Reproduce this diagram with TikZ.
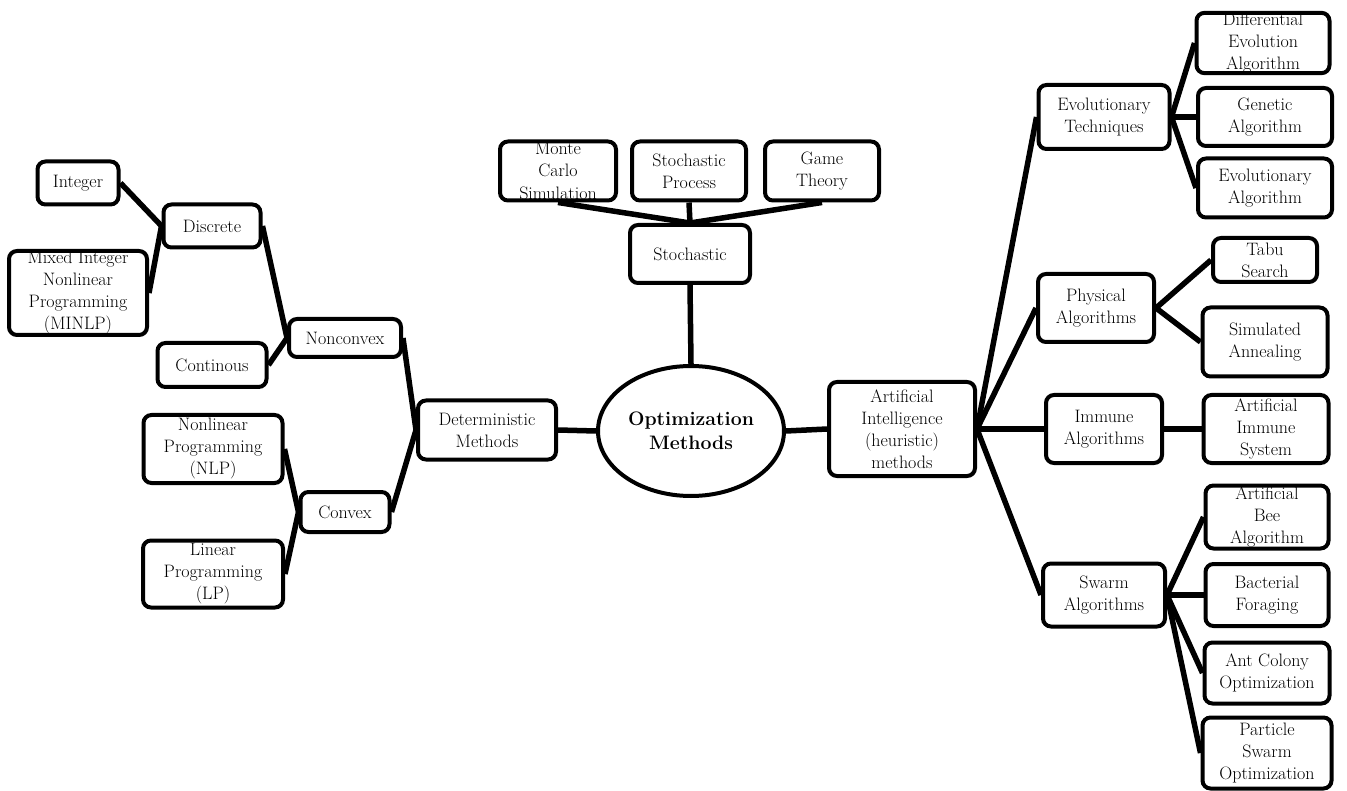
\documentclass[tikz,border=0pt]{standalone}
\usetikzlibrary{shapes.geometric}
\begin{document}
\begin{tikzpicture}[x=1pt,y=-1pt,
  bx/.style={draw,line width=4pt,rounded corners=8pt,align=center,inner sep=0pt,
    font=\fontsize{18}{22}\selectfont},
  ln/.style={line width=5.5pt},
]
\useasboundingbox (0,0) rectangle (1347,791);
\newcommand{\bxn}[6]{\node[bx,minimum width=#4,minimum height=#5] (#1) at (#2,#3) {#6};}
% centre
\node[ellipse,draw,line width=4pt,minimum width=186pt,minimum height=130pt,align=center,
  inner sep=0pt,font=\fontsize{19.5}{24}\selectfont\bfseries] (om) at (691,431) {Optimization\\Methods};
% stochastic
\bxn{st}{690}{254}{120}{58}{Stochastic}
\bxn{mc}{558}{171}{116}{59}{Monte\\Carlo\\Simulation}
\bxn{sp}{689}{171}{114}{59}{Stochastic\\Process}
\bxn{gt}{822}{171}{114}{59}{Game\\Theory}
% deterministic
\bxn{dm}{487}{430}{138}{59}{Deterministic\\Methods}
\bxn{nc}{345}{338}{112}{38}{Nonconvex}
\bxn{cv}{345}{512}{89}{40}{Convex}
\bxn{di}{212}{226}{97}{43}{Discrete}
\bxn{co}{212}{365}{109}{44}{Continous}
\bxn{in}{78}{183}{81}{43}{Integer}
\bxn{mi}{78}{293}{138}{84}{Mixed Integer\\Nonlinear\\Programming\\(MINLP)}
\bxn{nl}{213}{449}{139}{68}{Nonlinear\\Programming\\(NLP)}
\bxn{lp}{213}{574}{140}{67}{Linear\\Programming\\(LP)}
% AI
\bxn{ai}{902}{429}{146}{94}{Artificial\\Intelligence\\(heuristic)\\methods}
\bxn{et}{1104}{117}{131}{64}{Evolutionary\\Techniques}
\bxn{pa}{1096}{308}{116}{68}{Physical\\Algorithms}
\bxn{ia}{1104}{429}{116}{68}{Immune\\Algorithms}
\bxn{sa}{1104}{595}{122}{63}{Swarm\\Algorithms}
\bxn{de}{1263}{43}{133}{60}{Differential\\Evolution\\Algorithm}
\bxn{ga}{1265}{117}{134}{58}{Genetic\\Algorithm}
\bxn{ea}{1265}{188}{134}{59}{Evolutionary\\Algorithm}
\bxn{ts}{1265}{260}{104}{44}{Tabu\\Search}
\bxn{sm}{1265}{342}{125}{69}{Simulated\\Annealing}
\bxn{ais}{1266}{429}{125}{68}{Artificial\\Immune\\System}
\bxn{ab}{1267}{517}{123}{63}{Artificial\\Bee\\Algorithm}
\bxn{bf}{1267}{595}{123}{62}{Bacterial\\Foraging}
\bxn{ac}{1267}{673}{125}{61}{Ant Colony\\Optimization}
\bxn{ps}{1267}{753}{129}{71}{Particle\\Swarm\\Optimization}
% connectors
\draw[ln] (st.south) -- (om.north);
\draw[ln] (st.north) -- (mc.south);
\draw[ln] (st.north) -- (sp.south);
\draw[ln] (st.north) -- (gt.south);
\draw[ln] (om.west) -- (dm.east);
\draw[ln] (om.east) -- (ai.west);
\draw[ln] (dm.west) -- (nc.east);
\draw[ln] (dm.west) -- (cv.east);
\draw[ln] (nc.west) -- (di.east);
\draw[ln] (nc.west) -- (co.east);
\draw[ln] (di.west) -- (in.east);
\draw[ln] (di.west) -- (mi.east);
\draw[ln] (cv.west) -- (nl.east);
\draw[ln] (cv.west) -- (lp.east);
\draw[ln] (ai.east) -- (et.west);
\draw[ln] (ai.east) -- (pa.west);
\draw[ln] (ai.east) -- (ia.west);
\draw[ln] (ai.east) -- (sa.west);
\draw[ln] (et.east) -- (de.west);
\draw[ln] (et.east) -- (ga.west);
\draw[ln] (et.east) -- (ea.west);
\draw[ln] (pa.east) -- (ts.west);
\draw[ln] (pa.east) -- (sm.west);
\draw[ln] (ia.east) -- (ais.west);
\draw[ln] (sa.east) -- (ab.west);
\draw[ln] (sa.east) -- (bf.west);
\draw[ln] (sa.east) -- (ac.west);
\draw[ln] (sa.east) -- (ps.west);
\end{tikzpicture}
\end{document}
